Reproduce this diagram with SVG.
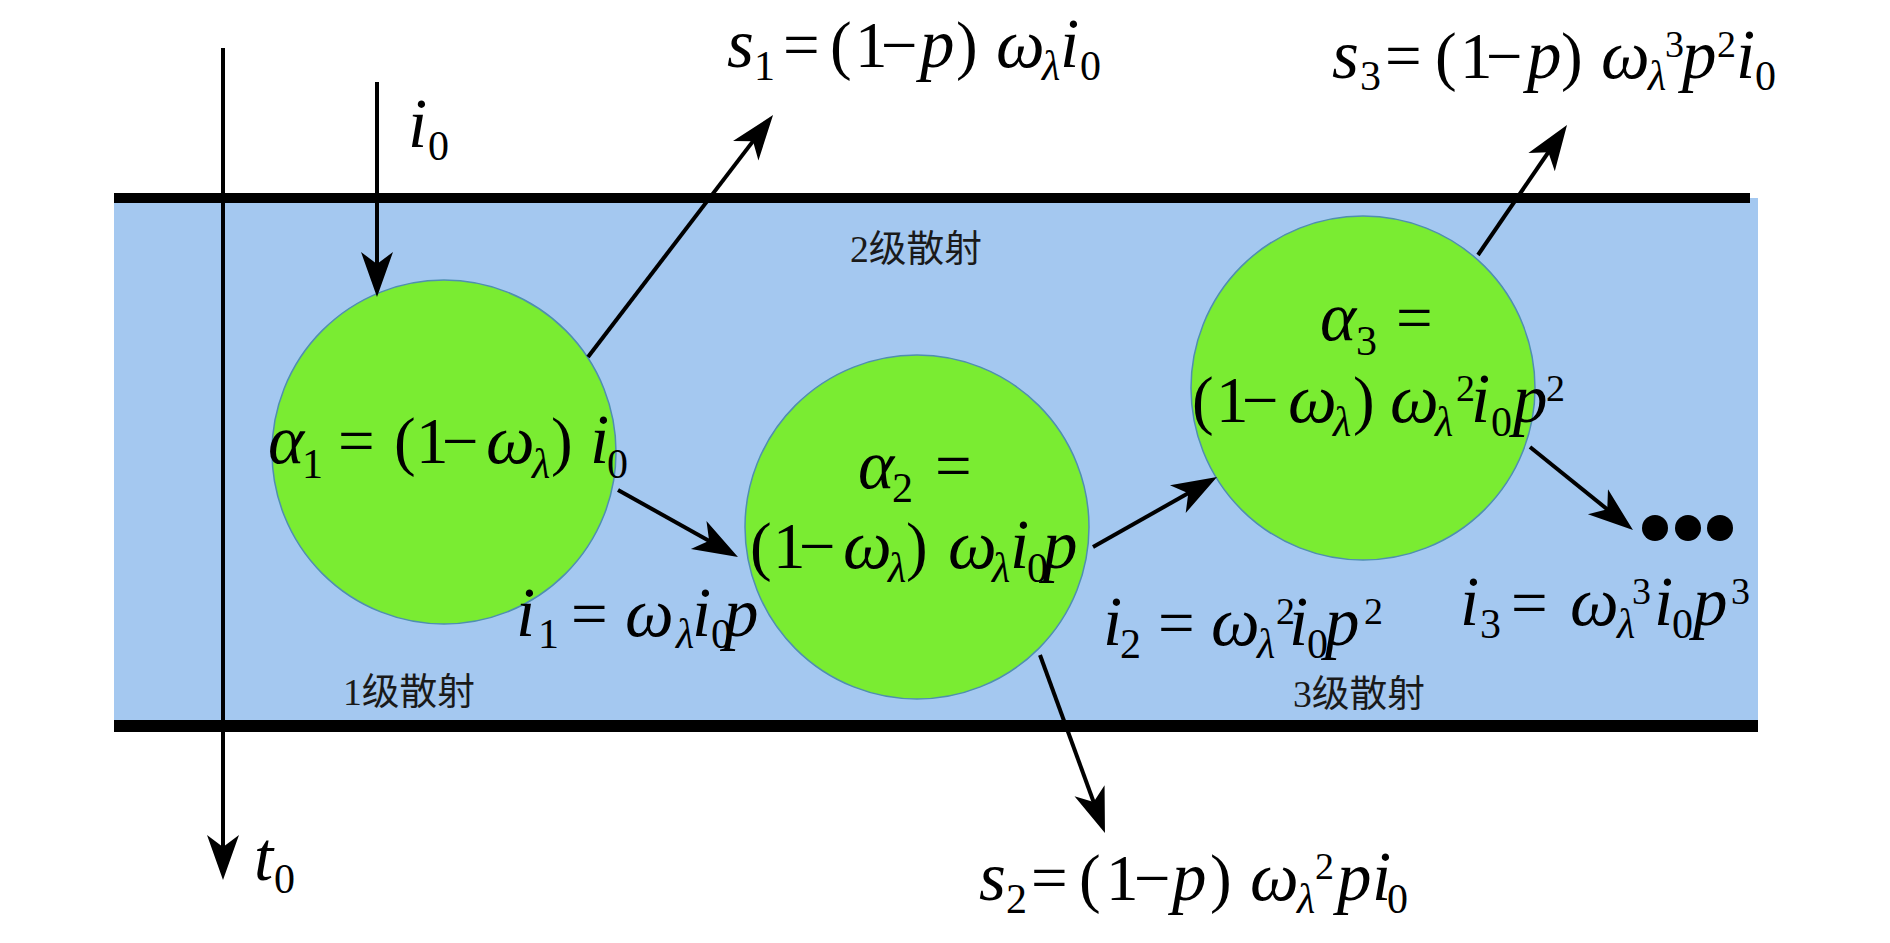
<svg xmlns="http://www.w3.org/2000/svg" width="1890" height="943" viewBox="0 0 1890 943">
<style>
.f{font-family:"Liberation Serif","Times New Roman",serif;font-size:65px;fill:#000}
.it{font-style:italic;font-size:69px}
.sb{font-size:42px}
.it.sb{font-size:42px}
.sp{font-size:38px}
.cn{font-family:"Liberation Serif","Noto Sans CJK SC",serif;font-size:37px;fill:#1a1a1a}
.ball{fill:#7AEC32;stroke:#4F8FB0;stroke-width:1.5}
.con{stroke:#000;stroke-width:4;fill:none;marker-end:url(#ah)}
</style>
<defs>
<marker id="ah" markerUnits="userSpaceOnUse" markerWidth="70" markerHeight="40" viewBox="-66 -20 70 40" refX="-20" refY="0" orient="auto" overflow="visible">
<path d="M0,0 L-45,-16 L-33,0 L-45,16 Z" fill="#000"/>
</marker>
</defs>
<rect width="1890" height="943" fill="#fff"/>
<g id="layer">
<rect x="114" y="198" width="1644" height="528" fill="#A4C8F0"/>
<line x1="114" y1="198" x2="1750" y2="198" stroke="#000" stroke-width="10"/>
<line x1="114" y1="726" x2="1758" y2="726" stroke="#000" stroke-width="12"/>
</g>
<g id="n1">
<circle class="ball" cx="444" cy="452" r="172"/>
<text class="f"><tspan class="it" x="268" y="463">α</tspan><tspan class="sb" x="302" y="478">1</tspan><tspan x="338" y="463">=</tspan><tspan x="394">(</tspan><tspan x="416">1</tspan><tspan x="442">−</tspan><tspan class="it" x="486">ω</tspan><tspan class="it sb" x="532" y="478">λ</tspan><tspan x="551" y="463">)</tspan><tspan class="it" x="590">i</tspan><tspan class="sb" x="607" y="478">0</tspan></text>
</g>
<g id="n2">
<circle class="ball" cx="917" cy="527" r="172"/>
<text class="f"><tspan class="it" x="858" y="488">α</tspan><tspan class="sb" x="892" y="502">2</tspan><tspan x="935" y="488">=</tspan></text>
<text class="f"><tspan x="750" y="568">(</tspan><tspan x="773">1</tspan><tspan x="799">−</tspan><tspan class="it" x="843">ω</tspan><tspan class="it sb" x="888" y="582">λ</tspan><tspan x="906" y="568">)</tspan><tspan class="it" x="948">ω</tspan><tspan class="it sb" x="992" y="582">λ</tspan><tspan class="it" x="1010" y="568">i</tspan><tspan class="sb" x="1027" y="582">0</tspan><tspan class="it" x="1043" y="568">p</tspan></text>
</g>
<g id="n3">
<circle class="ball" cx="1363" cy="388" r="172"/>
<text class="f"><tspan class="it" x="1320" y="340">α</tspan><tspan class="sb" x="1356" y="355">3</tspan><tspan x="1396" y="340">=</tspan></text>
<text class="f"><tspan x="1192" y="422">(</tspan><tspan x="1216">1</tspan><tspan x="1242">−</tspan><tspan class="it" x="1288">ω</tspan><tspan class="it sb" x="1333" y="436">λ</tspan><tspan x="1353" y="422">)</tspan><tspan class="it" x="1390">ω</tspan><tspan class="it sb" x="1435" y="436">λ</tspan><tspan class="sp" x="1456" y="401">2</tspan><tspan class="it" x="1471" y="422">i</tspan><tspan class="sb" x="1491" y="436">0</tspan><tspan class="it" x="1513" y="422">p</tspan><tspan class="sp" x="1546" y="401">2</tspan></text>
</g>
<g id="dots">
<circle cx="1655" cy="528" r="13" fill="#000"/>
<circle cx="1688" cy="528" r="13" fill="#000"/>
<circle cx="1720" cy="528" r="13" fill="#000"/>
</g>
<g id="connectors">
<line class="con" x1="223" y1="48" x2="223" y2="860" stroke-width="3.5"/>
<line class="con" x1="377" y1="82" x2="377" y2="277"/>
<line class="con" x1="588" y1="357" x2="760.9" y2="130.9"/>
<line class="con" x1="1478" y1="255" x2="1555.7" y2="141.5"/>
<line class="con" x1="618" y1="490" x2="720.5" y2="547.2"/>
<line class="con" x1="1093" y1="547" x2="1199.6" y2="486.8"/>
<line class="con" x1="1530" y1="447" x2="1617.4" y2="517.5"/>
<line class="con" x1="1040" y1="655" x2="1098.1" y2="814.2"/>
</g>
<g id="lbl-i0"><text class="f"><tspan class="it" x="408" y="147">i</tspan><tspan class="sb" x="428" y="160">0</tspan></text></g>
<g id="lbl-t0"><text class="f"><tspan class="it" x="254" y="880">t</tspan><tspan class="sb" x="274" y="893">0</tspan></text></g>
<g id="lbl-s1"><text class="f"><tspan class="it" x="727" y="67">s</tspan><tspan class="sb" x="754" y="80">1</tspan><tspan x="783" y="67">=</tspan><tspan x="830">(</tspan><tspan x="855">1</tspan><tspan x="881">−</tspan><tspan class="it" x="920">p</tspan><tspan x="956">)</tspan><tspan class="it" x="996">ω</tspan><tspan class="it sb" x="1042" y="80">λ</tspan><tspan class="it" x="1060" y="67">i</tspan><tspan class="sb" x="1080" y="80">0</tspan></text></g>
<g id="lbl-s3"><text class="f"><tspan class="it" x="1332" y="78">s</tspan><tspan class="sb" x="1360" y="90">3</tspan><tspan x="1385" y="78">=</tspan><tspan x="1435">(</tspan><tspan x="1460">1</tspan><tspan x="1486">−</tspan><tspan class="it" x="1527">p</tspan><tspan x="1561">)</tspan><tspan class="it" x="1601">ω</tspan><tspan class="it sb" x="1648" y="90">λ</tspan><tspan class="sp" x="1665" y="57">3</tspan><tspan class="it" x="1682" y="78">p</tspan><tspan class="sp" x="1717" y="57">2</tspan><tspan class="it" x="1736" y="78">i</tspan><tspan class="sb" x="1755" y="90">0</tspan></text></g>
<g id="lbl-s2"><text class="f"><tspan class="it" x="979" y="900">s</tspan><tspan class="sb" x="1006" y="913">2</tspan><tspan x="1031" y="900">=</tspan><tspan x="1079">(</tspan><tspan x="1106">1</tspan><tspan x="1134">−</tspan><tspan class="it" x="1172">p</tspan><tspan x="1210">)</tspan><tspan class="it" x="1250">ω</tspan><tspan class="it sb" x="1297" y="913">λ</tspan><tspan class="sp" x="1315" y="879">2</tspan><tspan class="it" x="1337" y="900">p</tspan><tspan class="it" x="1372">i</tspan><tspan class="sb" x="1387" y="913">0</tspan></text></g>
<g id="lbl-i1"><text class="f"><tspan class="it" x="516" y="636">i</tspan><tspan class="sb" x="538" y="648">1</tspan><tspan x="571" y="636">=</tspan><tspan class="it" x="625">ω</tspan><tspan class="it sb" x="676" y="648">λ</tspan><tspan class="it" x="692" y="636">i</tspan><tspan class="sb" x="711" y="648">0</tspan><tspan class="it" x="724" y="636">p</tspan></text></g>
<g id="lbl-i2"><text class="f"><tspan class="it" x="1103" y="645">i</tspan><tspan class="sb" x="1120" y="658">2</tspan><tspan x="1158" y="645">=</tspan><tspan class="it" x="1211">ω</tspan><tspan class="it sb" x="1257" y="658">λ</tspan><tspan class="sp" x="1276" y="624">2</tspan><tspan class="it" x="1289" y="645">i</tspan><tspan class="sb" x="1307" y="658">0</tspan><tspan class="it" x="1325" y="645">p</tspan><tspan class="sp" x="1364" y="624">2</tspan></text></g>
<g id="lbl-i3"><text class="f"><tspan class="it" x="1460" y="625">i</tspan><tspan class="sb" x="1480" y="638">3</tspan><tspan x="1511" y="625">=</tspan><tspan class="it" x="1570">ω</tspan><tspan class="it sb" x="1617" y="638">λ</tspan><tspan class="sp" x="1632" y="604">3</tspan><tspan class="it" x="1654" y="625">i</tspan><tspan class="sb" x="1672" y="638">0</tspan><tspan class="it" x="1693" y="625">p</tspan><tspan class="sp" x="1731" y="604">3</tspan></text></g>
<g id="lbl-cn">
<text class="cn" x="850" y="262" textLength="132" lengthAdjust="spacingAndGlyphs">2级散射</text>
<text class="cn" x="343" y="705" textLength="132" lengthAdjust="spacingAndGlyphs">1级散射</text>
<text class="cn" x="1293" y="707" textLength="132" lengthAdjust="spacingAndGlyphs">3级散射</text>
</g>
</svg>
